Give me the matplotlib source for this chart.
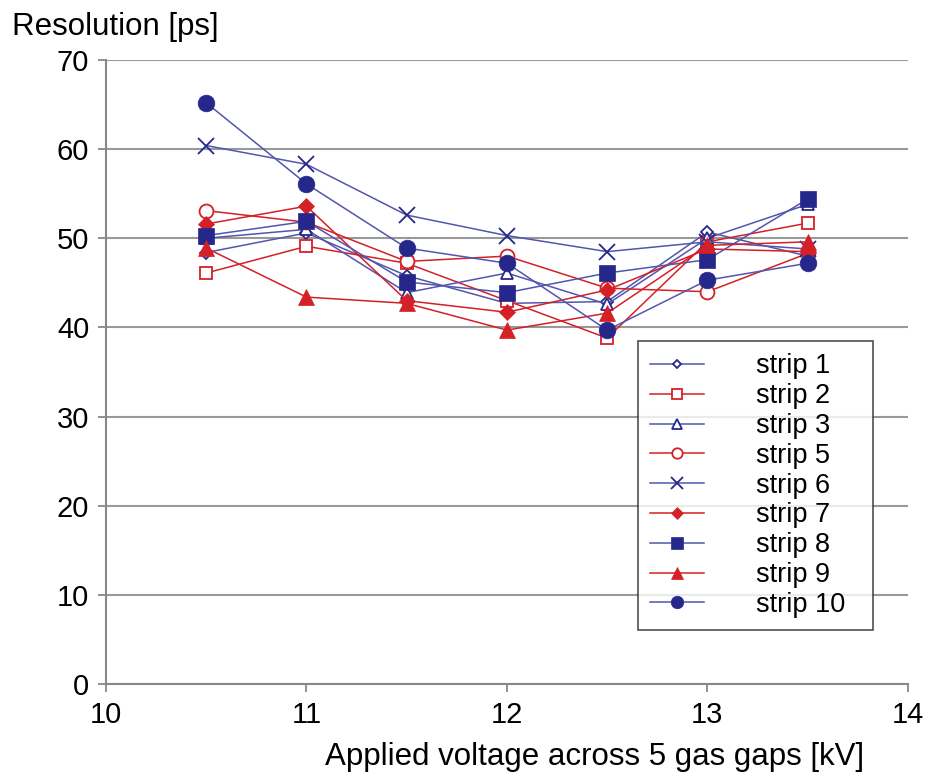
import matplotlib.pyplot as plt
import numpy as np

plt.rcParams['font.family'] = ['Liberation Sans', 'DejaVu Sans']

# Spannung [kV]
voltage = [10.5, 11, 11.5, 12, 12.5, 13, 13.5]

# Auflösung [ps] pro Streifen
strip1 = [48.4, 50.6, 45.8, 42.7, 42.9, 50.7, 48.0]
strip2 = [46.1, 49.1, 47.2, 43.0, 38.8, 49.6, 51.7]
strip3 = [50.0, 51.0, 43.9, 46.1, 42.6, 50.0, 53.8]
strip5 = [53.1, 51.8, 47.4, 48.0, 44.4, 44.0, 48.3]
strip6 = [60.4, 58.3, 52.6, 50.3, 48.5, 49.6, 48.8]
strip7 = [51.6, 53.6, 43.0, 41.7, 44.2, 48.8, 48.5]
strip8 = [50.3, 51.9, 45.1, 43.9, 46.1, 47.6, 54.4]
strip9 = [48.9, 43.4, 42.7, 39.7, 41.6, 49.2, 49.6]
strip10 = [65.2, 56.1, 48.9, 47.2, 39.7, 45.3, 47.2]

labels = ["strip 1", "strip 2", "strip 3", "strip 5", "strip 6",
          "strip 7", "strip 8", "strip 9", "strip 10"]

blau = "#25288a"
blau_linie = "#5256ad"
rot = "#d42027"

fig = plt.figure(figsize=(9.36, 7.76), dpi=100)
ax = fig.add_axes([0.1132, 0.1186, 0.8568, 0.8041])

# (daten, farbe, marker, gefüllt, größe)
serien = [
    (strip1, blau, "D", False, 6),
    (strip2, rot, "s", False, 9),
    (strip3, blau, "^", False, 9),
    (strip5, rot, "o", False, 10),
    (strip6, blau, "x", True, 11),
    (strip7, rot, "D", True, 8),
    (strip8, blau, "s", True, 11),
    (strip9, rot, "^", True, 12),
    (strip10, blau, "o", True, 12),
]

for (werte, farbe, m, voll, ms), lab in zip(serien, labels):
    linie = blau_linie if farbe == blau else rot
    ax.plot(voltage, werte, color=linie, lw=1.1, marker=m, ms=ms,
            markerfacecolor=farbe if voll else "white",
            markeredgecolor=farbe, markeredgewidth=1.3 if not voll or m == "x" else 0.5,
            label=lab)

ax.set_xlim(10, 14)
ax.set_ylim(0, 70)
ax.set_xticks(np.arange(10, 15, 1))
ax.set_yticks(np.arange(0, 71, 10))
ax.yaxis.grid(True, color="#999999", lw=1.5)
ax.set_axisbelow(True)
for s in ["top", "right"]:
    ax.spines[s].set_visible(False)
for s in ["left", "bottom"]:
    ax.spines[s].set_color("#888888")
    ax.spines[s].set_linewidth(1.5)
ax.tick_params(axis="both", direction="out", length=6, width=1.3, color="#888888",
               labelsize=21, pad=6)

fig.text(0.013, 0.955, "Resolution [ps]", fontsize=22.5, ha="left", va="baseline")
ax.set_xlabel("Applied voltage across 5 gas gaps [kV]", fontsize=22.5)
ax.xaxis.set_label_coords(0.609, -0.093)

# Legende: Box etwa rechts unten, Breite fest
leg = ax.legend(loc="lower left", bbox_to_anchor=(0.6633, 0.0865, 0.2930, 0.4), mode="expand",
                fontsize=19.5, frameon=True, fancybox=False, edgecolor="#222222",
                markerscale=0.75, handlelength=2.0, handletextpad=1.9, borderpad=0.45,
                labelspacing=0.14, borderaxespad=0)
leg.get_frame().set_linewidth(1.2)

plt.savefig("out.png", dpi=100)
